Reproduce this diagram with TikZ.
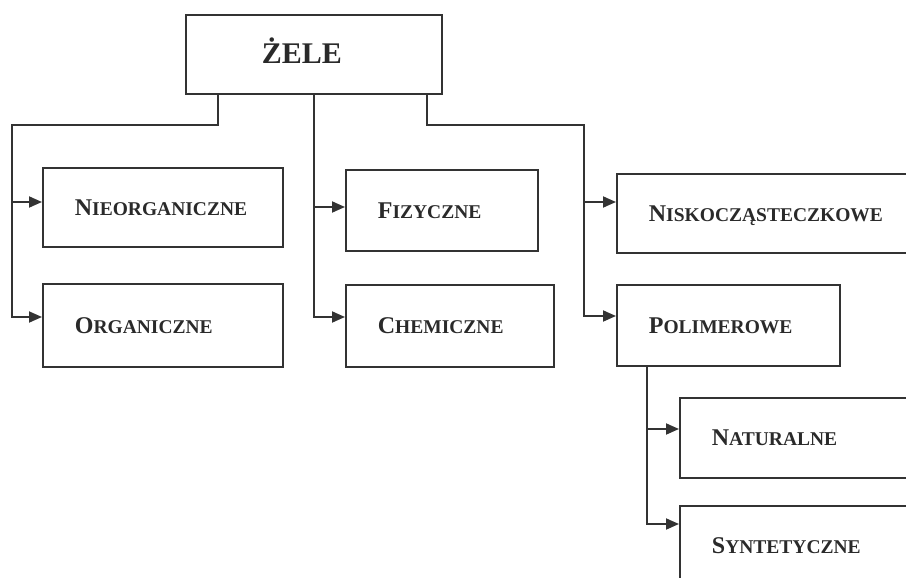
\documentclass[tikz,border=0pt]{standalone}
\usepackage{fontspec}
\setmainfont{Liberation Serif}
\usetikzlibrary{arrows.meta}
\definecolor{ink}{HTML}{333333}
\definecolor{txt}{HTML}{2A2A2A}
\newcommand{\bigL}[1]{{\fontsize{24}{26}\selectfont #1}}
\newcommand{\smallL}[1]{{\fontsize{19.5}{22}\selectfont #1}}
\newcommand{\scword}[2]{\bfseries\bigL{#1}\smallL{#2}}
\tikzset{
  boxnode/.style n args={2}{draw=ink, line width=1.8pt, rectangle, anchor=north west,
    inner xsep=32pt, inner ysep=0pt, text width=#1pt-64pt, minimum height=#2pt,
    align=left, text height=16pt, text depth=0pt, text=txt},
  conn/.style={draw=ink, line width=1.8pt},
  arr/.style={conn, -{Triangle[length=13pt,width=11pt]}}
}
\begin{document}
\begin{tikzpicture}[x=1pt,y=-1pt]
\useasboundingbox (0,0) rectangle (906,578);
\clip (0,0) rectangle (906,578);
\fill[white] (0,0) rectangle (906,578);

\node[draw=ink, line width=1.8pt, rectangle, anchor=north west, inner xsep=76pt, inner ysep=0pt,
  text width=104pt, minimum height=79pt, align=left, text height=19pt, text depth=0pt, text=txt,
  font=\bfseries\fontsize{30}{32}\selectfont] (top) at (185,14) {ŻELE};

\node[boxnode={240}{79}] (nie) at (42,167) {\scword{N}{IEORGANICZNE}};
\node[boxnode={240}{83}] (org) at (42,283) {\scword{O}{RGANICZNE}};
\node[boxnode={192}{81}] (fiz) at (345,169) {\scword{F}{IZYCZNE}};
\node[boxnode={208}{82}] (chem) at (345,284) {\scword{C}{HEMICZNE}};
\node[boxnode={320}{79}] (nis) at (616,173) {\scword{N}{ISKOCZĄSTECZKOWE}};
\node[boxnode={223}{81}] (pol) at (616,284) {\scword{P}{OLIMEROWE}};
\node[boxnode={320}{80}] (nat) at (679,397) {\scword{N}{ATURALNE}};
\node[boxnode={320}{80}] (syn) at (679,505) {\scword{S}{YNTETYCZNE}};

% arrow end points
\coordinate (anie) at ([yshift=-35pt]nie.north west);
\coordinate (aorg) at ([yshift=-34pt]org.north west);
\coordinate (afiz) at ([yshift=-38pt]fiz.north west);
\coordinate (achem) at ([yshift=-33pt]chem.north west);
\coordinate (anis) at ([yshift=-29pt]nis.north west);
\coordinate (apol) at ([yshift=-32pt]pol.north west);
\coordinate (anat) at ([yshift=-32pt]nat.north west);
\coordinate (asyn) at ([yshift=-19pt]syn.north west);

% left branch
\coordinate (jl) at (12,125);
\draw[arr] ([xshift=33pt]top.south west) |- (jl) |- (aorg);
\draw[arr] (jl |- anie) -- (anie);

% middle branch
\draw[arr] (top.south) |- (achem);
\draw[arr] (top.south |- afiz) -- (afiz);

% right branch
\coordinate (jr) at (584,125);
\draw[arr] ([xshift=-16pt]top.south east) |- (jr) |- (apol);
\draw[arr] (jr |- anis) -- (anis);

% polymer sub-branch
\coordinate (ps) at ([xshift=31pt]pol.south west);
\draw[arr] (ps) |- (asyn);
\draw[arr] (ps |- anat) -- (anat);
\end{tikzpicture}
\end{document}
